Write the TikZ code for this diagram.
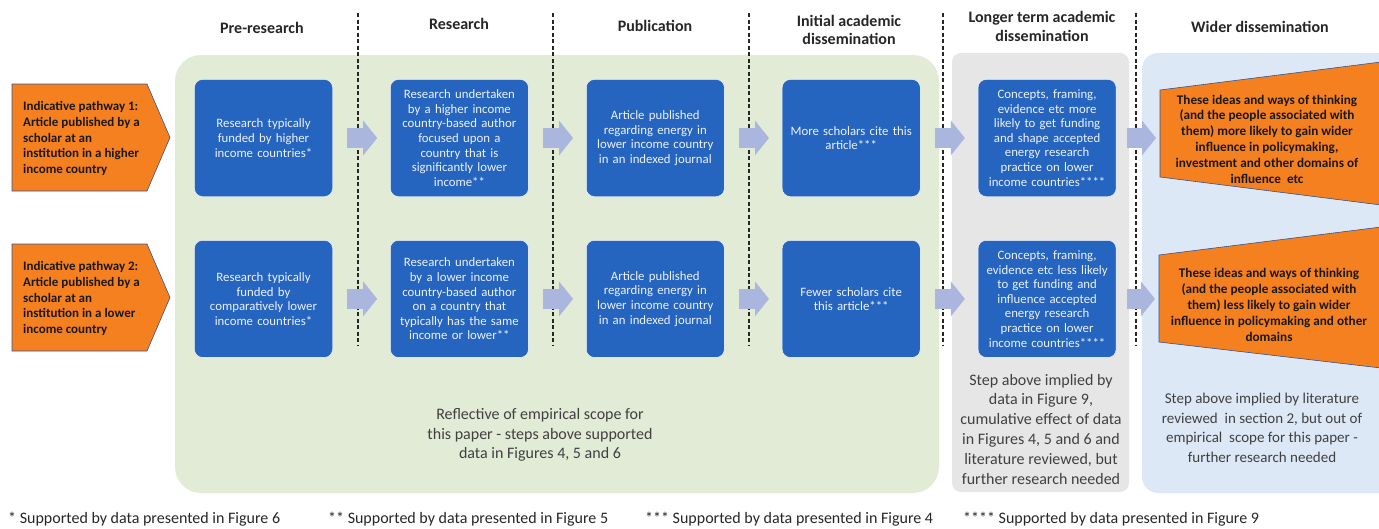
\documentclass[tikz,border=0pt]{standalone}
\usepackage{fontspec}
\setmainfont{Carlito}
\usepackage{tikz}
\usetikzlibrary{arrows.meta,positioning,calc}
\usepackage{xcolor}
\definecolor{pwblue}{RGB}{38,101,191}
\definecolor{pworange}{RGB}{245,128,32}
\definecolor{pwedge}{RGB}{47,85,151}
\definecolor{pwgreen}{RGB}{226,235,214}
\definecolor{pwgrey}{RGB}{230,230,230}
\definecolor{pwlightblue}{RGB}{221,232,246}
\definecolor{pwarrow}{RGB}{170,182,222}
\definecolor{pwtext}{RGB}{64,64,64}
\definecolor{pwwhite}{RGB}{236,241,250}
\tikzstyle{flowarrow} = [line width=20pt,-{Triangle[length=14pt,width=34pt]},color=pwarrow,shorten <=14.5pt,shorten >=13pt]
\tikzstyle{stepbox} = [rectangle, rounded corners=8pt, minimum width=138pt, minimum height=117pt, text width=132pt, inner sep=3pt, align=center, draw=white, fill=pwblue, text=pwwhite, font=\fontsize{12.8}{14.6}\selectfont]
\tikzstyle{header} = [align=center, text=black!85, font=\bfseries\fontsize{16}{18.5}\selectfont]
\tikzstyle{panel} = [rounded corners=10pt, draw=none]
\tikzstyle{paneltext} = [align=center, text=pwtext, font=\fontsize{16}{19.8}\selectfont]
\tikzstyle{pathshape} = [draw=pwedge, fill=pworange, line width=0.6pt]
\tikzstyle{pathtext} = [align=left, text=black!90, inner sep=0pt, font=\bfseries\fontsize{13}{15.7}\selectfont]
\tikzstyle{widetext} = [align=center, text=black!90, inner sep=0pt, font=\bfseries\fontsize{13.2}{15.8}\selectfont]
\tikzstyle{stage} = [black!85, line width=1.1pt, dash pattern=on 4pt off 2.5pt]
\tikzstyle{note} = [anchor=west, inner sep=0pt, text=black!85, font=\fontsize{16}{18}\selectfont]

\begin{document}
\begin{tikzpicture}[x=1pt,y=-1pt]
\useasboundingbox (0,0) rectangle (1379,528);

% Scope panels
\fill[panel, fill=pwgreen, rounded corners=26pt] (175,55) rectangle (939,493);
\fill[panel, fill=pwgrey, rounded corners=9pt] (952,53) rectangle (1129,492);
\fill[panel, fill=pwlightblue, rounded corners=16pt] (1142,53) rectangle (1395,493);

% Stage separators
\foreach \sx in {358,553,749,943,1136}
  \draw[stage] (\sx,13) -- (\sx,345);

% Stage headings
\node[header] (hpre) at (262,28) {Pre-research};
\node[header] (hres) at (459,24) {Research};
\node[header] (hpub) at (655,26) {Publication};
\node[header] (hini) at (849,30) {Initial academic\\dissemination};
\node[header] (hlon) at (1042,26.5) {Longer term academic\\dissemination};
\node[header] (hwid) at (1260,27) {Wider dissemination};

% Pathway 1
\draw[pathshape] (12,84) -- (147,84) -- (170,137.5) -- (147,191) -- (12,191) -- cycle;
\node[pathtext, anchor=west] (p1) at (23,138.5) {Indicative pathway 1:\\Article published by a\\scholar at an\\institution in a higher\\income country};

\node[stepbox] (b11) at (263.5,138) {Research typically\\funded by higher\\income countries*};
\node[stepbox, right=57.5pt of b11] (b12) {Research undertaken\\by a higher income\\country-based author\\focused upon a\\country that is\\significantly lower\\income**};
\node[stepbox, right=57.5pt of b12] (b13) {Article published\\regarding energy in\\lower income country\\in an indexed journal};
\node[stepbox, right=57.5pt of b13] (b14) {More scholars cite this\\article***};
\node[stepbox, right=57.5pt of b14] (b15) {Concepts, framing,\\evidence etc more\\likely to get funding\\and shape accepted\\energy research\\practice on lower\\income countries****};

\draw[pathshape] (1160,90) -- (1381,62) -- (1381,205) -- (1160,177) -- cycle;
\node[widetext] (w1) at (1267,139) {These ideas and ways of thinking\\(and the people associated with\\them) more likely to gain wider\\influence in policymaking,\\investment and other domains of\\influence\ \ etc};
\coordinate (w1in) at (1160,138);

% Pathway 2
\draw[pathshape] (12,244) -- (147,244) -- (170,297.5) -- (147,351) -- (12,351) -- cycle;
\node[pathtext, anchor=west] (p2) at (23,298.5) {Indicative pathway 2:\\Article published by a\\scholar at an\\institution in a lower\\income country};

\node[stepbox, below=43.5pt of b11] (b21) {Research typically\\funded by\\comparatively lower\\income countries*};
\node[stepbox, right=57.5pt of b21] (b22) {Research undertaken\\by a lower income\\country-based author\\on a country that\\typically has the same\\income or lower**};
\node[stepbox, right=57.5pt of b22] (b23) {Article published\\regarding energy in\\lower income country\\in an indexed journal};
\node[stepbox, right=57.5pt of b23] (b24) {Fewer scholars cite\\this article***};
\node[stepbox, right=57.5pt of b24] (b25) {Concepts, framing,\\evidence etc less likely\\to get funding and\\influence accepted\\energy research\\practice on lower\\income countries****};

\draw[pathshape] (1159,255) -- (1381,227) -- (1381,368) -- (1159,342) -- cycle;
\node[widetext] (w2) at (1269,305) {These ideas and ways of thinking\\(and the people associated with\\them) less likely to gain wider\\influence in policymaking and other\\domains};
\coordinate (w2in) at (1159,298.5);

% Block arrows
\foreach \r in {1,2} {
  \draw[flowarrow] (b\r1) -- (b\r2);
  \draw[flowarrow] (b\r2) -- (b\r3);
  \draw[flowarrow] (b\r3) -- (b\r4);
  \draw[flowarrow] (b\r4) -- (b\r5);
  \draw[flowarrow, shorten <=10.5pt, shorten >=4pt] (b\r5.east) -- (b\r5.east -| w\r in);
}

% Scope notes
\node[paneltext] (sgreen) at (540,435) {Reflective of empirical scope for\\this paper - steps above supported\\data in Figures 4, 5 and 6};
\node[paneltext] (sgrey) at (1041,429) {Step above implied by\\data in Figure 9,\\cumulative effect of data\\in Figures 4, 5 and 6 and\\literature reviewed, but\\further research needed};
\node[paneltext, font=\fontsize{15}{19.5}\selectfont] (sblue) at (1262,428) {Step above implied by literature\\reviewed\ \ in section 2, but out of\\empirical\ \ scope for this paper -\\further research needed};

% Footnotes
\node[note] (n1) at (8,519) {* Supported by data presented in Figure 6};
\node[note] (n2) at (328,519) {** Supported by data presented in Figure 5};
\node[note] (n3) at (645,519) {*** Supported by data presented in Figure 4};
\node[note] (n4) at (963,519) {**** Supported by data presented in Figure 9};
\end{tikzpicture}
\end{document}
